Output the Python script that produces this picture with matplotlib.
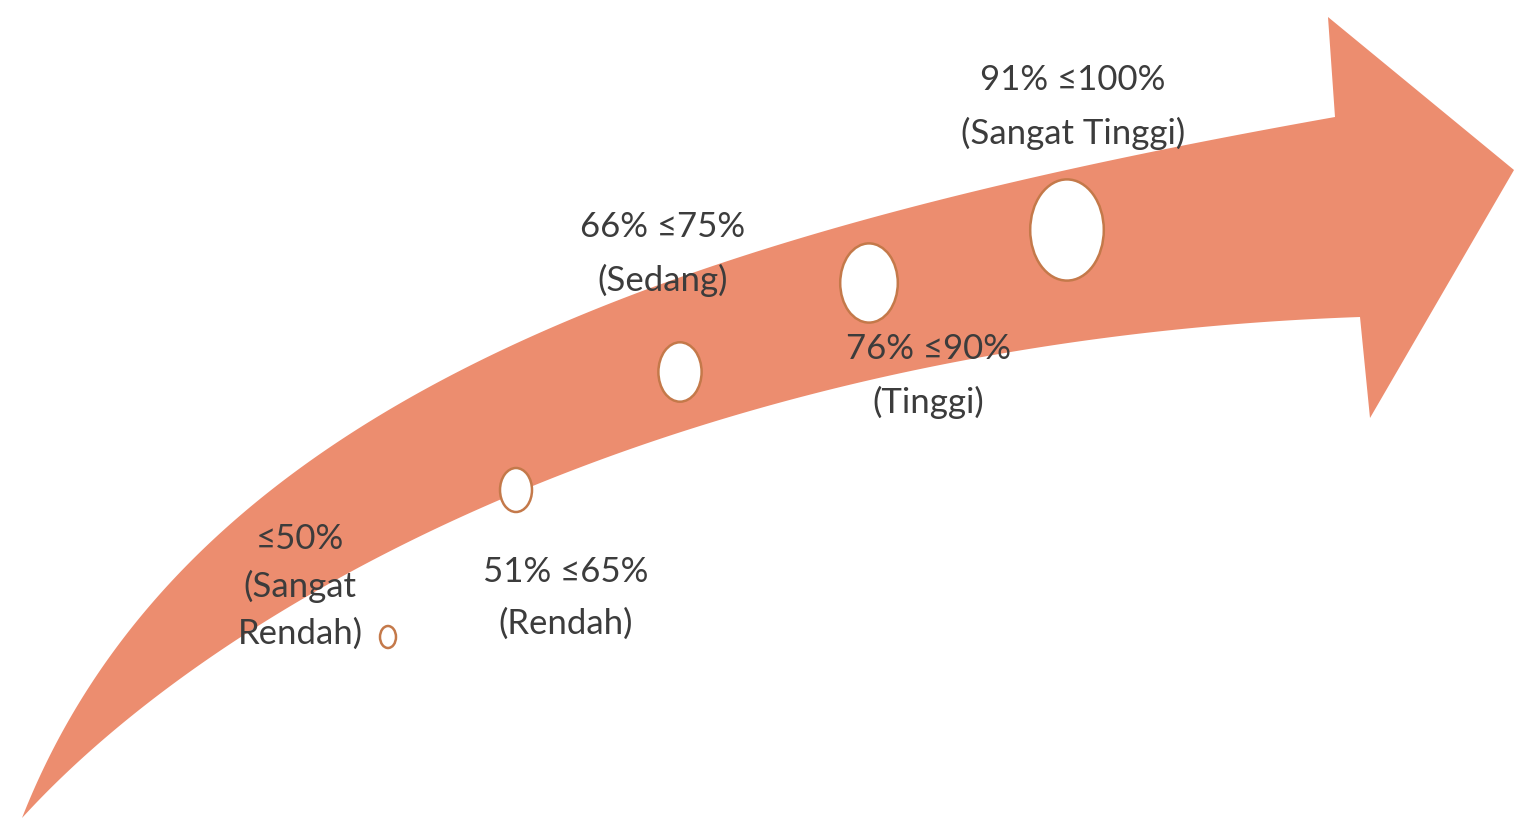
import matplotlib
matplotlib.use("Agg")
import numpy as np
import matplotlib.pyplot as plt
from matplotlib.patches import Polygon, Ellipse

# Tingkat kategori (data)
ranges = ["\u226450%", "51% \u226465%", "66% \u226475%", "76% \u226490%", "91% \u2264100%"]
levels = ["(Sangat\nRendah)", "(Rendah)", "(Sedang)", "(Tinggi)", "(Sangat Tinggi)"]
circle_size = [1, 2, 2.7, 3.6, 4.6]   # ukuran relatif lingkaran

# Tata letak (piksel)
circle_xy = [(388, 637), (516, 490), (680, 372), (869, 283), (1067, 230)]
label_xy = [(300, 586), (566, 598), (663, 254), (928, 376), (1073, 107)]
label_spacing = [1.55, 1.75, 1.75, 1.75, 1.75]

ARROW = "#EC8D6F"
RING = "#C4794A"
TEXT = "#3c3c3c"


def bezier(p0, p1, p2, p3, n=200):
    t = np.linspace(0, 1, n)[:, None]
    p0, p1, p2, p3 = map(np.array, (p0, p1, p2, p3))
    return ((1 - t) ** 3 * p0 + 3 * (1 - t) ** 2 * t * p1
            + 3 * (1 - t) * t ** 2 * p2 + t ** 3 * p3)


def main():
    fig = plt.figure(figsize=(15.14, 8.25), dpi=100)
    ax = fig.add_axes([0, 0, 1, 1])
    ax.set_xlim(0, 1514)
    ax.set_ylim(825, 0)
    ax.axis("off")

    # Badan panah melengkung
    upper = bezier((22, 818), (190, 390), (700, 230), (1335, 117))
    lower = bezier((22, 818), (230, 590), (700, 340), (1360, 317))
    head = np.array([(1335, 117), (1328, 17), (1514, 170), (1370, 418), (1360, 317)])
    outline = np.vstack([upper, head, lower[::-1]])
    ax.add_patch(Polygon(outline, closed=True, facecolor=ARROW, edgecolor="none"))

    # Lingkaran
    for (x, y), s in zip(circle_xy, circle_size):
        ax.add_patch(Ellipse((x, y), width=16 * s, height=22 * s,
                             facecolor="white", edgecolor=RING, linewidth=1.8))

    # Label
    for (x, y), r, lv, ls in zip(label_xy, ranges, levels, label_spacing):
        ax.text(x, y, r + "\n" + lv, ha="center", va="center",
                fontsize=25, color=TEXT, linespacing=ls,
                family=["Lato", "DejaVu Sans"])

    fig.savefig("out.png", dpi=100, facecolor="white")


if __name__ == "__main__":
    main()
